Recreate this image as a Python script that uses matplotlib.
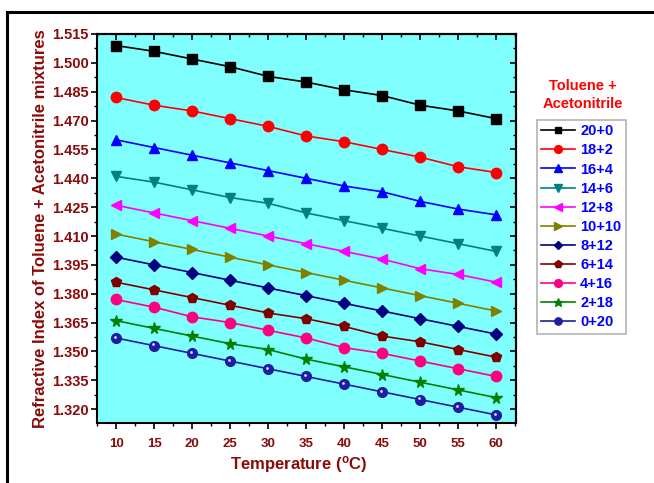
import matplotlib
matplotlib.use("Agg")
import matplotlib.pyplot as plt
from matplotlib.ticker import MultipleLocator, FormatStrFormatter
from matplotlib.patches import Rectangle
from matplotlib.transforms import offset_copy

plt.rcParams['font.family'] = ['Liberation Sans', 'DejaVu Sans']

temperature = [10, 15, 20, 25, 30, 35, 40, 45, 50, 55, 60]

labels = ['20+0', '18+2', '16+4', '14+6', '12+8', '10+10', '8+12', '6+14', '4+16', '2+18', '0+20']

s_20_0 = [1.509, 1.506, 1.502, 1.498, 1.493, 1.490, 1.486, 1.483, 1.478, 1.475, 1.471]
s_18_2 = [1.482, 1.478, 1.475, 1.471, 1.467, 1.462, 1.459, 1.455, 1.451, 1.446, 1.443]
s_16_4 = [1.460, 1.456, 1.452, 1.448, 1.444, 1.440, 1.436, 1.433, 1.428, 1.424, 1.421]
s_14_6 = [1.441, 1.438, 1.434, 1.430, 1.427, 1.422, 1.418, 1.414, 1.410, 1.406, 1.402]
s_12_8 = [1.426, 1.422, 1.418, 1.414, 1.410, 1.406, 1.402, 1.398, 1.393, 1.390, 1.386]
s_10_10 = [1.411, 1.407, 1.403, 1.399, 1.395, 1.391, 1.387, 1.383, 1.379, 1.375, 1.371]
s_8_12 = [1.399, 1.395, 1.391, 1.387, 1.383, 1.379, 1.375, 1.371, 1.367, 1.363, 1.359]
s_6_14 = [1.386, 1.382, 1.378, 1.374, 1.370, 1.367, 1.363, 1.358, 1.355, 1.351, 1.347]
s_4_16 = [1.377, 1.373, 1.368, 1.365, 1.361, 1.357, 1.352, 1.349, 1.345, 1.341, 1.337]
s_2_18 = [1.366, 1.362, 1.358, 1.354, 1.351, 1.346, 1.342, 1.338, 1.334, 1.330, 1.326]
s_0_20 = [1.357, 1.353, 1.349, 1.345, 1.341, 1.337, 1.333, 1.329, 1.325, 1.321, 1.317]

y_ticks = [1.320, 1.335, 1.350, 1.365, 1.380, 1.395, 1.410, 1.425, 1.440, 1.455, 1.470, 1.485, 1.500, 1.515]

series = [s_20_0, s_18_2, s_16_4, s_14_6, s_12_8, s_10_10, s_8_12, s_6_14, s_4_16, s_2_18, s_0_20]
colors = ['#000000', '#FF0000', '#0000FF', '#008080', '#FF00FF', '#808000',
          '#000080', '#800000', '#FF0080', '#008000', '#1E1EA0']
markers = ['s', 'o', '^', 'v', '<', '>', 'D', 'p', 'o', '*', 'o']
msizes = [6.5, 7.5, 7.5, 7.5, 7.5, 7.5, 6, 7.5, 7.5, 8.5, 7]

dark_red = '#8B0A0A'

fig = plt.figure(figsize=(6.54, 4.83), dpi=100)
fig.patch.set_facecolor('white')
ax = fig.add_axes([97/654, 1 - 423/483, (516 - 97)/654, (423 - 34)/483])
ax.set_facecolor('#80FFFF')

handles = []
for ys, c, m, ms, lab in zip(series, colors, markers, msizes, labels):
    h, = ax.plot(temperature, ys, color=c, marker=m, markersize=ms, linewidth=1.2,
                 markeredgecolor=c, markerfacecolor=c, label=lab)
    handles.append(h)
# sphere highlight for the 0+20 series (small light spot up-left of centre)
hl_trans = offset_copy(ax.transData, fig=fig, x=-1.2, y=1.2, units='dots')
ax.plot(temperature, s_0_20, linestyle='none', marker='o', markersize=2.0,
        markerfacecolor='#D8D8FF', markeredgecolor='none', transform=hl_trans)

ax.set_xlim(7.5, 62.6)
ax.set_ylim(1.3128, 1.515)
ax.xaxis.set_major_locator(MultipleLocator(5))
ax.xaxis.set_minor_locator(MultipleLocator(2.5))
ax.set_yticks(y_ticks)
ax.yaxis.set_minor_locator(MultipleLocator(0.0075))
ax.yaxis.set_major_formatter(FormatStrFormatter('%.3f'))

for sp in ax.spines.values():
    sp.set_linewidth(1.5)
    sp.set_color('black')

ax.tick_params(axis='both', which='major', length=4.5, width=1.2, labelcolor=dark_red,
               direction='out')
ax.tick_params(axis='both', which='minor', length=2.5, width=1.0, direction='out')
ax.tick_params(axis='x', which='major', labelsize=9.5, pad=6)
ax.tick_params(axis='y', which='major', labelsize=10.5, pad=1.5)
for lbl in ax.get_xticklabels() + ax.get_yticklabels():
    lbl.set_fontweight('bold')

# inward ticks on top and right
secx = ax.secondary_xaxis('top')
secx.xaxis.set_major_locator(MultipleLocator(5))
secx.xaxis.set_minor_locator(MultipleLocator(2.5))
secx.tick_params(which='major', direction='in', length=4.5, width=1.2, labeltop=False)
secx.tick_params(which='minor', direction='in', length=2.5, width=1.0)
secx.spines['top'].set_linewidth(1.5)
secy = ax.secondary_yaxis('right')
secy.set_yticks(y_ticks)
secy.yaxis.set_minor_locator(MultipleLocator(0.0075))
secy.tick_params(which='major', direction='in', length=4.5, width=1.2, labelright=False)
secy.tick_params(which='minor', direction='in', length=2.5, width=1.0)
secy.spines['right'].set_linewidth(1.5)
ax.tick_params(top=False, right=False, which='both')

ax.set_xlabel(r'Temperature ($\mathregular{^o}$C)', fontsize=12, fontweight='bold', color=dark_red)
ax.set_ylabel('Refractive Index of Toluene + Acetonitrile mixtures', fontsize=12,
              fontweight='bold', color=dark_red)
ax.xaxis.set_label_coords((299 - 97) / 419, (423 - 454) / 389)
ax.yaxis.set_label_coords((48 - 97) / 419, (423 - 229) / 389)

fig.text(583/654, 1 - 86/483, 'Toluene +', color='#FF0000', fontsize=10.5,
         fontweight='bold', ha='center', va='center')
fig.text(583/654, 1 - 104/483, 'Acetonitrile', color='#FF0000', fontsize=10.5,
         fontweight='bold', ha='center', va='center')

leg = fig.legend(handles=handles, loc='upper left', bbox_to_anchor=(537/654, 1 - 120/483),
                 frameon=True, fancybox=False, fontsize=10.5, handlelength=2.3,
                 handletextpad=0.35, labelspacing=0.35, borderpad=0.3, markerscale=0.75,
                 borderaxespad=0)
leg.get_frame().set_edgecolor('#A0A0A0')
leg.get_frame().set_linewidth(1.2)
for t in leg.get_texts():
    t.set_color('#0000FF')
    t.set_fontweight('bold')

fig.patches.append(Rectangle((7/654, -0.1), 1.2, (483 - 12)/483 + 0.1,
                             transform=fig.transFigure, fill=False,
                             edgecolor='black', linewidth=2.2, zorder=10))

fig.savefig('out.png', dpi=100)
